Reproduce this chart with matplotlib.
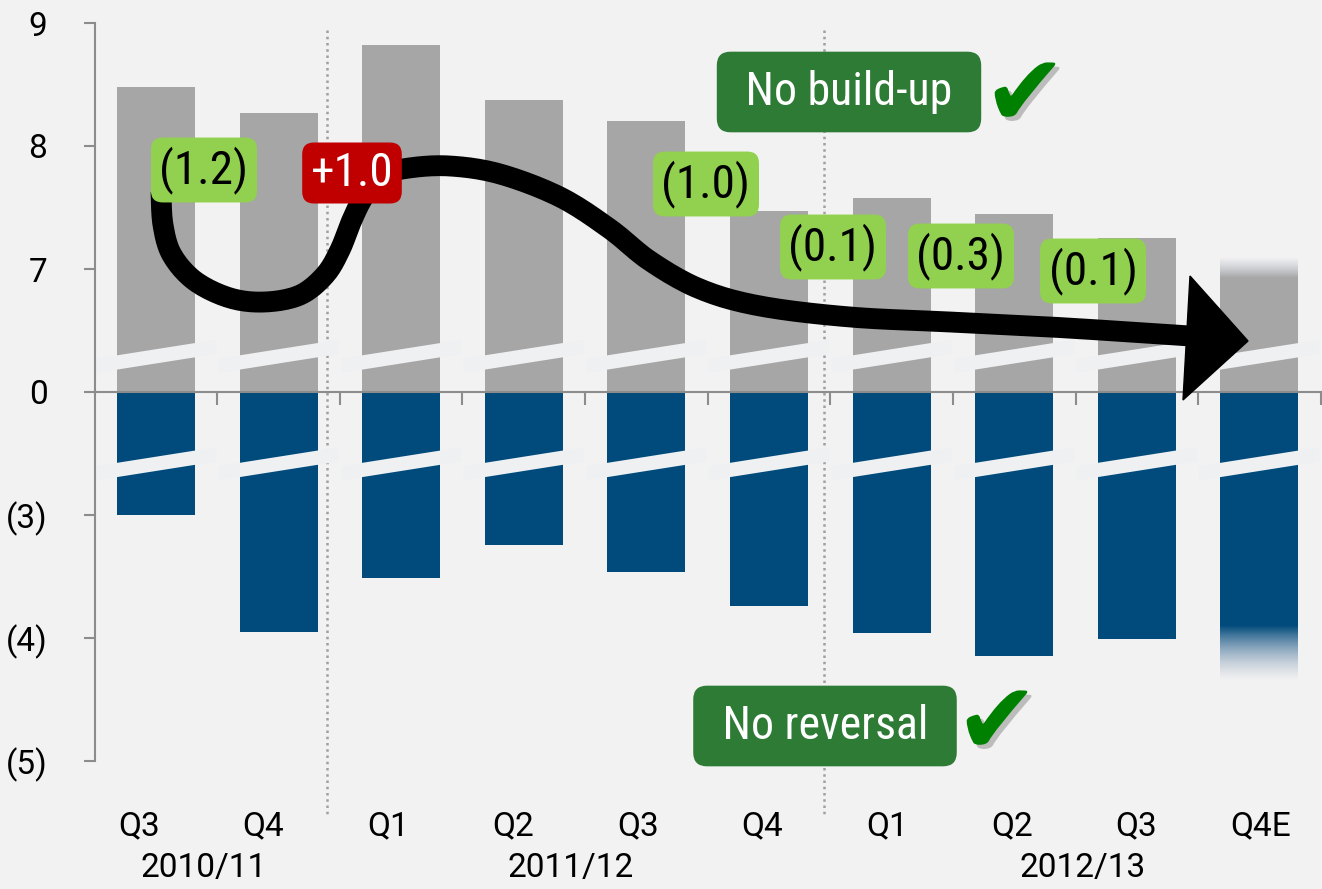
import numpy as np
import matplotlib
matplotlib.use("Agg")
import matplotlib.pyplot as plt
from matplotlib.patches import Polygon
import matplotlib.patheffects as pe

plt.rcParams['font.family'] = ['Roboto', 'DejaVu Sans']
NARROW = ['Roboto Condensed', 'DejaVu Sans']

# data
quarters = ["Q3", "Q4", "Q1", "Q2", "Q3", "Q4", "Q1", "Q2", "Q3", "Q4E"]
years = ["2010/11", "2011/12", "2012/13"]
gross = [8.48, 8.27, 8.82, 8.37, 8.20, 7.47, 7.58, 7.45, 7.25, 7.10]
offset = [-3.00, -3.95, -3.51, -3.24, -3.46, -3.74, -3.96, -4.15, -4.01, -4.35]
changes = ["(1.2)", "+1.0", "(1.0)", "(0.1)", "(0.3)", "(0.1)"]

GRAY = "#A6A6A6"
BLUE = "#004B7C"
BG = "#F2F2F2"
AXC = "#8C8C8C"

# broken axis: 7..9 shown above 0, (3)..(5) below 0
def d(v):
    return v - 6 if v > 0 else v + 2

# helper for pixel positions of decorations
X0, XS, Y0, YS = 156, 122.6, 392, 123
def px(x, y):
    return (x - X0) / XS, (Y0 - y) / YS

fig = plt.figure(figsize=(13.22, 8.89), dpi=100)
fig.patch.set_facecolor(BG)
ax = fig.add_axes([0, 0, 1, 1])
ax.set_facecolor(BG)

x = np.arange(len(quarters))
gd = np.array([d(v) for v in gross])
bd = np.array([d(v) for v in offset])
w = 0.636

ax.bar(x[:-1], gd[:-1], width=w, color=GRAY, zorder=2)
ax.bar(x[:-1], bd[:-1], width=w, color=BLUE, zorder=2)

# estimate bar (Q4E) fades out at the end
fade_g, fade_b = 0.17, 0.45
ax.bar(x[-1], gd[-1] - fade_g, width=w, color=GRAY, zorder=2)
ax.bar(x[-1], bd[-1] + fade_b, width=w, color=BLUE, zorder=2)
n = 64
a = np.linspace(1, 0, n)
g = np.zeros((n, 1, 4))
g[:, 0, :3] = np.outer(a, matplotlib.colors.to_rgb(GRAY)) + np.outer(1 - a, [0.72, 0.74, 0.80])
g[:, 0, 3] = a
ax.imshow(g, extent=[x[-1] - w / 2, x[-1] + w / 2, gd[-1] - fade_g, gd[-1]],
          origin="lower", aspect="auto", zorder=2, interpolation="bilinear")
b = np.zeros((n, 1, 4))
b[:, 0, :3] = np.outer(a, matplotlib.colors.to_rgb(BLUE)) + np.outer(1 - a, [0.6, 0.65, 0.75])
b[:, 0, 3] = a
ax.imshow(b[::-1], extent=[x[-1] - w / 2, x[-1] + w / 2, bd[-1], bd[-1] + fade_b],
          origin="lower", aspect="auto", zorder=2, interpolation="bilinear")

# break marks
for i in x:
    for c in (0.29, -0.584):
        x0, x1 = i - 0.49, i + 0.49
        s, t = 0.157, 0.058
        y0, y1 = c - s * 0.49, c + s * 0.49
        ax.add_patch(Polygon([(x0, y0 - t), (x1, y1 - t), (x1, y1 + t), (x0, y0 + t)],
                             closed=True, fc="#EFF0F2", ec="none", zorder=3))

# dotted separators between fiscal years
for xs in (1.395, 5.45):
    ax.plot([xs, xs], [px(0, 30)[1], px(0, 815)[1]], ls=(0, (1, 1.5)), color="#A0A0A0", lw=1.8, zorder=1)

# axes
ax.set_xlim(-X0 / XS, (1322 - X0) / XS)
ax.set_ylim(-(889 - Y0) / YS, Y0 / YS)
for s in ("top", "right"):
    ax.spines[s].set_visible(False)
ax.spines["left"].set_position(("data", -0.5))
ax.spines["left"].set_bounds(-3, 3)
ax.spines["bottom"].set_position(("data", 0))
ax.spines["bottom"].set_bounds(-0.5, 9.6)
for s in ("left", "bottom"):
    ax.spines[s].set_color(AXC)
    ax.spines[s].set_linewidth(1.5)
    ax.spines[s].set_zorder(4)
ax.set_yticks([3, 2, 1, 0, -1, -2, -3])
ax.set_yticklabels(["9", "8", "7", "0", "(3)", "(4)", "(5)"])
ax.tick_params(axis="y", length=8, width=1.5, color=AXC, pad=26, labelsize=24)
ax.set_xticks(np.arange(0.5, 10, 1))
ax.set_xticklabels([])
ax.tick_params(axis="x", length=9.5, width=1.5, color=AXC)

for i, q in enumerate(quarters):
    ax.text(-0.14 + i * 1.017, px(0, 826)[1], q, ha="center", va="center", fontsize=24)
for xp, yr in zip([0.39, 3.38, 7.56], years):
    ax.text(xp, px(0, 868)[1], yr, ha="center", va="center", fontsize=24)

# arrow
pts = np.array([px(*p) for p in [
    (161, 192), (163, 225), (172, 255), (195, 281), (230, 298), (265, 302), (300, 295),
    (325, 275), (340, 250), (352, 220), (365, 195), (385, 175), (409, 168), (450, 166),
    (500, 174), (560, 197), (610, 229), (650, 261), (700, 289), (760, 306), (850, 317),
    (950, 322), (1050, 327), (1130, 332), (1190, 336)]])

def catmull(p, k=12):
    out = []
    p = np.vstack([p[0], p, p[-1]])
    for j in range(1, len(p) - 2):
        p0, p1, p2, p3 = p[j - 1], p[j], p[j + 1], p[j + 2]
        for t in np.linspace(0, 1, k, endpoint=False):
            out.append(0.5 * ((2 * p1) + (-p0 + p2) * t + (2 * p0 - 5 * p1 + 4 * p2 - p3) * t ** 2
                              + (-p0 + 3 * p1 - 3 * p2 + p3) * t ** 3))
    out.append(p[-2])
    return np.array(out)

curve = catmull(pts)
ax.plot(curve[:, 0], curve[:, 1], color="black", lw=15, solid_capstyle="butt",
        solid_joinstyle="round", zorder=5)
ax.add_patch(Polygon([px(1190, 276), px(1248, 341), px(1183, 400)], closed=True,
                     fc="black", ec="black", zorder=5))

# change labels
label_pos = [(204, 170), (352, 173), (706, 184), (833, 247), (961, 256), (1093, 271)]
for (lx, ly), s in zip(label_pos, changes):
    red = s.startswith("+")
    ax.text(*px(lx, ly), s, ha="center", va="center", fontsize=34, family=NARROW,
            color="white" if red else "black", zorder=6,
            bbox=dict(boxstyle="round,pad=0.18,rounding_size=0.25",
                      fc="#C00000" if red else "#92D050", ec="none"))

# callouts
for (cx, cy), s, (kx, ky) in [((849, 92), "No build-up", (1025, 98)),
                               ((825, 726), "No reversal", (997, 726))]:
    ax.text(*px(cx, cy), " " + s + " ", ha="center", va="center", fontsize=33, color="white",
            family=NARROW, zorder=6,
            bbox=dict(boxstyle="round,pad=0.4,rounding_size=0.3", fc="#2E7B36", ec="none"))
    ax.text(*px(kx, ky), "\u2714", ha="center", va="center", fontsize=72, color="#008000",
            family="DejaVu Sans", zorder=6,
            path_effects=[pe.withSimplePatchShadow(offset=(3, -3), shadow_rgbFace="#888888", alpha=0.5)])

fig.savefig("out.png", dpi=100, facecolor=BG)
